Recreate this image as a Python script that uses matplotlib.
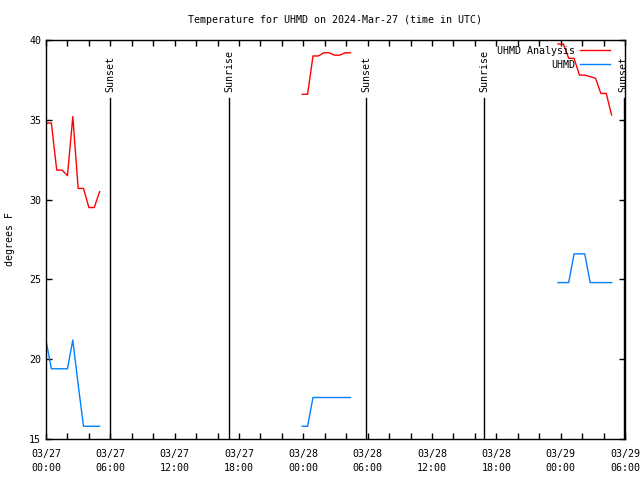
import matplotlib
matplotlib.use("Agg")
import matplotlib.pyplot as plt
import numpy as np

# hours since 03/27 00:00 UTC, NaN separates the data gaps
hours = [0.05, 0.5, 1.0, 1.5, 2.0, 2.5, 3.0, 3.5, 4.0, 4.5, 5.0, np.nan,
         23.9, 24.4, 24.9, 25.4, 25.9, 26.4, 26.9, 27.4, 27.9, 28.4, np.nan,
         47.75, 48.25, 48.75, 49.25, 49.75, 50.25, 50.75, 51.25, 51.75, 52.25, 52.75]
analysis = [34.8, 34.8, 31.85, 31.85, 31.5, 35.2, 30.7, 30.7, 29.5, 29.5, 30.5, np.nan,
            36.6, 36.6, 39.0, 39.0, 39.2, 39.2, 39.05, 39.05, 39.2, 39.2, np.nan,
            39.75, 39.75, 38.85, 38.85, 37.8, 37.8, 37.7, 37.6, 36.65, 36.65, 35.3]
uhmd = [21.0, 19.4, 19.4, 19.4, 19.4, 21.2, 18.4, 15.8, 15.8, 15.8, 15.8, np.nan,
        15.8, 15.8, 17.6, 17.6, 17.6, 17.6, 17.6, 17.6, 17.6, 17.6, np.nan,
        24.8, 24.8, 24.8, 26.6, 26.6, 26.6, 24.8, 24.8, 24.8, 24.8, 24.8]

sun_times = [5.97, 17.1, 29.85, 40.86, 53.87]
sun_labels = ["Sunset", "Sunrise", "Sunset", "Sunrise", "Sunset"]

tick_hours = [0, 6, 12, 18, 24, 30, 36, 42, 48, 54]
tick_labels = ["03/27\n00:00", "03/27\n06:00", "03/27\n12:00", "03/27\n18:00",
               "03/28\n00:00", "03/28\n06:00", "03/28\n12:00", "03/28\n18:00",
               "03/29\n00:00", "03/29\n06:00"]

plt.rcParams['font.family'] = ['DejaVu Sans Mono']
fs = 7.2

fig = plt.figure(figsize=(6.4, 4.8), dpi=100)
ax = fig.add_axes([46/640, 1-439/480, 579/640, 399/480])

ax.plot(hours, analysis, color='#ff0000', lw=1, label='UHMD Analysis')
ax.plot(hours, uhmd, color='#0080ff', lw=1, label='UHMD')

for t, lab in zip(sun_times, sun_labels):
    ax.plot([t, t], [15, 36.37], color='black', lw=1)
    ax.text(t, 36.74, lab, rotation=90, ha='center', va='bottom', fontsize=fs)

ax.set_xlim(0, 54)
ax.set_ylim(15, 40)
ax.set_xticks(tick_hours)
ax.set_xticklabels(tick_labels, fontsize=fs, linespacing=1.5)
ax.set_xticks(np.arange(0, 55, 2), minor=True)
ax.set_yticks([15, 20, 25, 30, 35, 40])
ax.set_yticklabels(['15', '20', '25', '30', '35', '40'], fontsize=fs)
ax.tick_params(which='both', direction='in', top=True, right=True, length=4, width=1)
ax.tick_params(axis='x', pad=7)
ax.set_ylabel('degrees F', fontsize=fs, labelpad=10)
ax.set_title('Temperature for UHMD on 2024-Mar-27 (time in UTC)', fontsize=fs, pad=12)

for s in ax.spines.values():
    s.set_linewidth(1)

leg = ax.legend(loc='upper right', fontsize=fs, frameon=False, markerfirst=False,
                handlelength=3, handletextpad=0.5, borderaxespad=0, labelspacing=0.4,
                borderpad=0, bbox_to_anchor=(0.974, 0.985))
for t in leg.get_texts():
    t.set_ha('right')

fig.savefig('out.png', dpi=100)
